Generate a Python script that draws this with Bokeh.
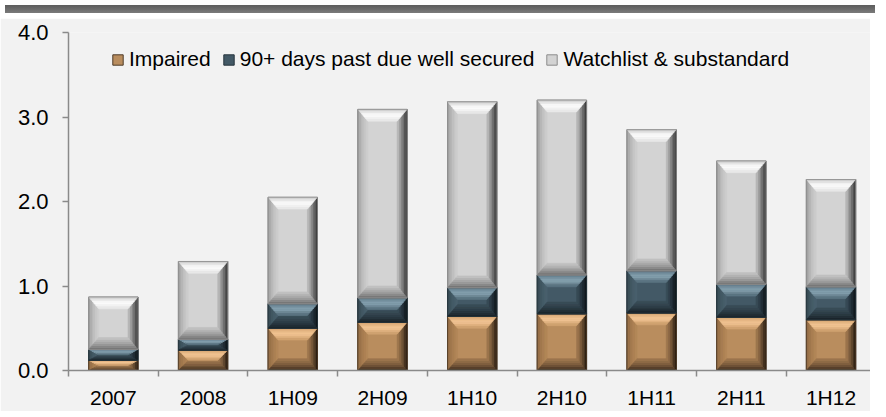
import numpy as np
from bokeh.plotting import figure
from bokeh.models import (ColumnDataSource, FixedTicker, Legend, LegendItem,
                          Range1d, Div)
from bokeh.layouts import column
from bokeh.embed import file_html
from bokeh.resources import INLINE

# ---------------- data ----------------
periods = ["2007", "2008", "1H09", "2H09", "1H10", "2H10", "1H11", "2H11", "1H12"]
impaired = [0.12, 0.24, 0.50, 0.57, 0.64, 0.67, 0.68, 0.63, 0.60]
past_due = [0.13, 0.13, 0.29, 0.29, 0.34, 0.46, 0.50, 0.39, 0.39]
watchlist = [0.62, 0.92, 1.26, 2.23, 2.20, 2.07, 1.67, 1.46, 1.27]
series_names = ["Impaired", "90+ days past due well secured", "Watchlist & substandard"]
y_ticks = [0.0, 1.0, 2.0, 3.0, 4.0]
y_tick_labels = ["0.0", "1.0", "2.0", "3.0", "4.0"]

# ---------------- layout constants ----------------
W, H = 870, 393
BL, BR, BT, BB = 68, 0, 14, 35
X_START, X_END = 0.5, 9.44
Y_END = 4.0
frame_w = W - BL - BR
frame_h = H - BT - BB
px_x = frame_w / (X_END - X_START)
px_y = frame_h / Y_END
BAR_W = 0.55
BEV_X = 10 / px_x
BEV_Y = 12 / px_y
RINGS = 6
FONT = "Liberation Sans"
AXIS_COLOR = "#8a8a8a"

styles = [
    dict(center="#b98d5e", outline="#4e3a27",
         top=["#d2a16e", "#f6c998", "#c99a68"],
         left=["#8e6a45", "#a57b50", "#b48959"],
         right=["#1c140c", "#6e5236", "#a57c52"],
         bottom=["#35271a", "#7a5a3c", "#a07950"]),
    dict(center="#435966", outline="#26343c",
         top=["#5d7786", "#89a6b4", "#526a78"],
         left=["#34464f", "#445a66", "#4a616e"],
         right=["#0c1114", "#24313a", "#3c505c"],
         bottom=["#182126", "#2c3b44", "#3b4f5a"]),
    dict(center="#d3d3d3", outline="#8c8c8c",
         top=["#c8c8c8", "#ffffff", "#e4e4e4"],
         left=["#9a9a9a", "#bdbdbd", "#cfcfcf"],
         right=["#2e2e2e", "#7a7a7a", "#c2c2c2"],
         bottom=["#6e6e6e", "#a0a0a0", "#c6c6c6"]),
]


def hex2rgb(h):
    h = h.lstrip("#")
    return [int(h[i:i + 2], 16) for i in (0, 2, 4)]


def grad(stops, t):
    n = len(stops) - 1
    pos = min(t * n, n - 1e-9)
    i = int(pos)
    f = pos - i
    a, b = hex2rgb(stops[i]), hex2rgb(stops[i + 1])
    c = [round(a[k] + (b[k] - a[k]) * f) for k in range(3)]
    return "#%02x%02x%02x" % tuple(c)


def bevel(xc_list, y0_list, y1_list, st):
    xs, ys, cols = [], [], []
    for xc, b, t in zip(xc_list, y0_list, y1_list):
        l, r = xc - BAR_W / 2, xc + BAR_W / 2
        bx = min(BEV_X, (r - l) / 2)
        by = min(BEV_Y, (t - b) / 2)
        for k in range(RINGS):
            f0, f1 = k / RINGS, (k + 1) / RINGS
            fm = (f0 + f1) / 2
            ol, orr, ob, ot = l + bx * f0, r - bx * f0, b + by * f0, t - by * f0
            il, ir, ib, it = l + bx * f1, r - bx * f1, b + by * f1, t - by * f1
            xs.append([ol, il, il, ol]); ys.append([ob, ib, it, ot]); cols.append(grad(st["left"], fm))
            xs.append([orr, ir, ir, orr]); ys.append([ob, ib, it, ot]); cols.append(grad(st["right"], fm))
            xs.append([ol, orr, ir, il]); ys.append([ob, ob, ib, ib]); cols.append(grad(st["bottom"], fm))
            xs.append([ol, orr, ir, il]); ys.append([ot, ot, it, it]); cols.append(grad(st["top"], fm))
    return xs, ys, cols


x = np.arange(1, len(periods) + 1)
imp = np.array(impaired)
pdv = np.array(past_due)
wl = np.array(watchlist)
bottoms = [np.zeros_like(imp), imp, imp + pdv]
tops = [imp, imp + pdv, imp + pdv + wl]

p = figure(width=W, height=H, output_backend="svg", toolbar_location=None,
           x_range=Range1d(X_START, X_END), y_range=Range1d(0, Y_END),
           min_border_left=BL, min_border_right=BR, min_border_top=BT,
           min_border_bottom=BB)
p.background_fill_color = "#f2f2f2"
p.border_fill_color = "#f2f2f2"
p.outline_line_color = None
p.xgrid.visible = False
p.ygrid.visible = False

legend_items = []
for i, st in enumerate(styles):
    src = ColumnDataSource(dict(x=x, left=x - BAR_W / 2, right=x + BAR_W / 2,
                                bottom=bottoms[i], top=tops[i]))
    base = p.quad(left="left", right="right", bottom="bottom", top="top", source=src,
                  fill_color=st["center"], line_color=st["outline"], line_width=1)
    xs, ys, cols = bevel(x, bottoms[i], tops[i], st)
    p.patches(xs="xs", ys="ys", fill_color="c", line_color="c", line_width=0.6,
              source=ColumnDataSource(dict(xs=xs, ys=ys, c=cols)))
    p.quad(left="left", right="right", bottom="bottom", top="top", source=src,
           fill_color=None, line_color=st["outline"], line_width=1, line_alpha=0.8)
    legend_items.append(LegendItem(label=series_names[i], renderers=[base]))

legend = Legend(items=legend_items, orientation="horizontal", location=(43, 299),
                glyph_width=13, glyph_height=13, label_standoff=5, spacing=11,
                padding=0, margin=0, border_line_color=None, background_fill_alpha=0,
                label_text_font_size="21px", label_text_font=FONT,
                label_text_color="#000000")
p.add_layout(legend)

# x axis
xa = p.xaxis[0]
xa.ticker = FixedTicker(ticks=list(x), minor_ticks=[X_START + k for k in range(len(periods) + 1)])
xa.major_label_overrides = {int(v): lab for v, lab in zip(x, periods)}
xa.major_tick_line_color = None
xa.major_tick_out = 6
xa.major_tick_in = 0
xa.minor_tick_line_color = AXIS_COLOR
xa.minor_tick_out = 6
xa.minor_tick_in = 0
xa.minor_tick_line_width = 1.5
xa.axis_line_color = AXIS_COLOR
xa.axis_line_width = 1.5
xa.major_label_standoff = 9
xa.major_label_text_font = FONT
xa.major_label_text_font_size = "21px"
xa.major_label_text_color = "#000000"

# y axis
ya = p.yaxis[0]
ya.ticker = FixedTicker(ticks=y_ticks, minor_ticks=[])
ya.major_label_overrides = {v: lab for v, lab in zip(y_ticks, y_tick_labels)}
ya.major_tick_line_color = AXIS_COLOR
ya.major_tick_line_width = 1.5
ya.major_tick_out = 6
ya.major_tick_in = 0
ya.minor_tick_line_color = None
ya.axis_line_color = AXIS_COLOR
ya.axis_line_width = 1.5
ya.major_label_standoff = 14
ya.major_label_text_font = FONT
ya.major_label_text_font_size = "22px"
ya.major_label_text_color = "#000000"

header = Div(text="", width=W, height=8,
             styles={"background": "linear-gradient(#5c5c5c, #7a7a7a)"})
layout = column(header, p, spacing=0)

open("out.html", "w").write(file_html(layout, INLINE))
